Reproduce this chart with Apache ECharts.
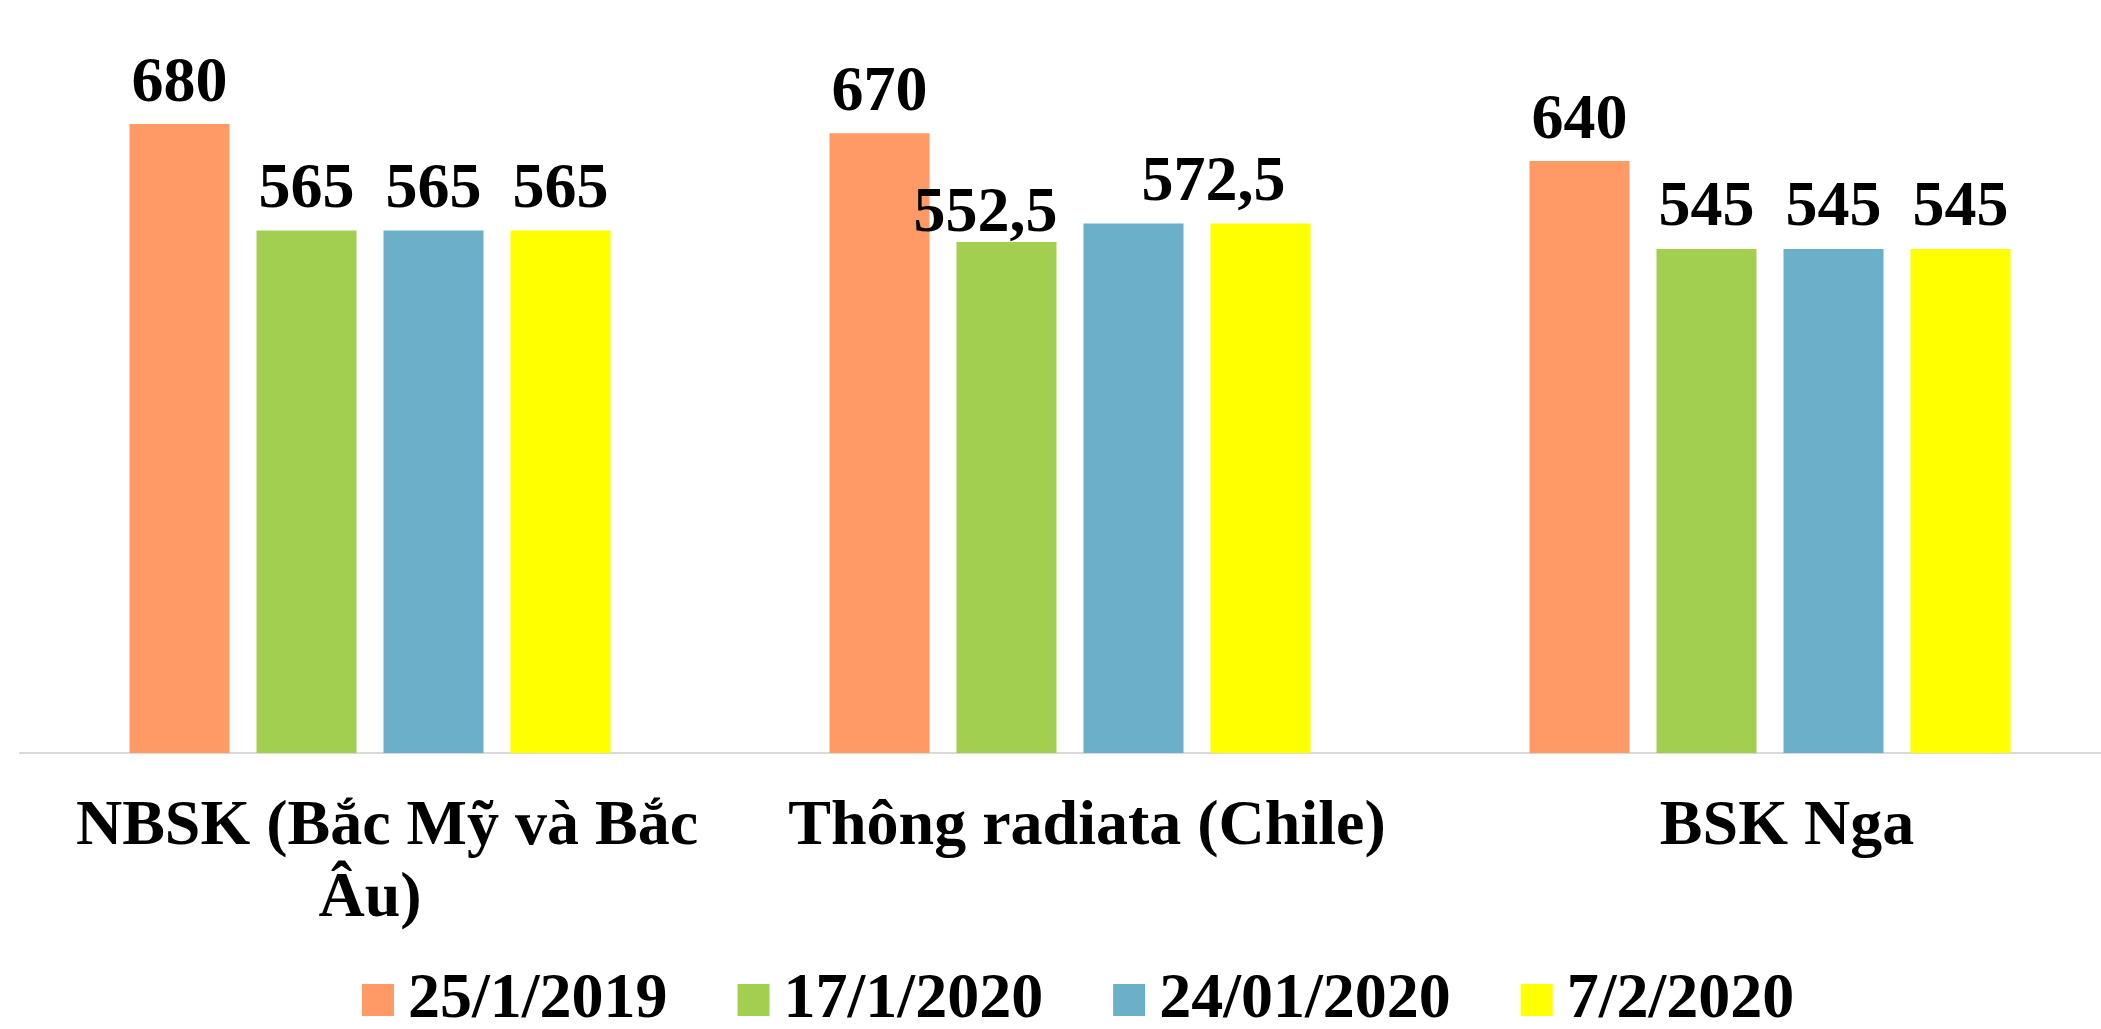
<!DOCTYPE html>
<html>
<head>
<meta charset="utf-8">
<script src="https://cdn.jsdelivr.net/npm/echarts@6/dist/echarts.min.js"></script>
<style>html,body{margin:0;padding:0;background:#fff;overflow:hidden}#c{width:2120px;height:1029px}</style>
</head>
<body>
<div id="c"></div>
<script>
const categories = ['NBSK (Bắc Mỹ và Bắc\nÂu)', 'Thông radiata (Chile)', 'BSK Nga'];
const seriesNames = ['25/1/2019', '17/1/2020', '24/01/2020', '7/2/2020'];
const s2019_01_25 = [680, 670, 640];
const s2020_01_17 = [565, 552.5, 545];
const s2020_01_24 = [565, 572.5, 545];
const s2020_02_07 = [565, 572.5, 545];
const colors = ['#FF9966', '#A2CF4F', '#6BAFC9', '#FFFF00'];

// label tweaks as in the reference (series index -> category index -> overrides)
const labelTweaks = {
  1: {1: {offset: [-21, 13]}},
  2: {1: {show: false}},
  3: {1: {offset: [-47, 0]}}
};

const FONT = "'Times New Roman', 'Liberation Serif', serif";
const allValues = [s2019_01_25, s2020_01_17, s2020_01_24, s2020_02_07];

const series = allValues.map((vals, si) => ({
  name: seriesNames[si],
  type: 'bar',
  barWidth: 100,
  barGap: '27%',
  itemStyle: {color: colors[si]},
  label: {
    show: true,
    position: 'top',
    distance: 8,
    color: '#000',
    fontFamily: FONT,
    fontWeight: 'bold',
    fontSize: 64,
    formatter: p => String(p.value).replace('.', ',')
  },
  data: vals.map((v, i) => {
    const t = labelTweaks[si] && labelTweaks[si][i];
    return t ? {value: v, label: t} : v;
  })
}));

const labelTextStyle = {
  color: '#000',
  fontFamily: FONT,
  fontWeight: 'bold',
  fontSize: 64,
  lineHeight: 72
};

const chart = echarts.init(document.getElementById('c'), null, {renderer: 'canvas'});
chart.setOption({
  animation: false,
  backgroundColor: '#fff',
  grid: {left: 20, right: 0, top: 13, bottom: 276, containLabel: false},
  xAxis: {
    type: 'category',
    data: categories,
    axisLine: {lineStyle: {color: '#D9D9D9', width: 2}},
    axisTick: {show: false},
    axisLabel: Object.assign({
      interval: 0,
      margin: 38,
      formatter: v => v.split('\n').map((l, i) => (i === 0 ? '{a|' : '{b|') + l + '}').join('\n'),
      rich: {
        a: Object.assign({padding: [0, 0, 0, 34]}, labelTextStyle),
        b: Object.assign({}, labelTextStyle)
      }
    }, labelTextStyle)
  },
  yAxis: {
    type: 'value',
    min: 0,
    max: 800,
    interval: 100,
    show: false,
    splitLine: {show: false}
  },
  legend: {
    left: 357,
    top: 963,
    itemWidth: 32,
    itemHeight: 32,
    itemGap: 70,
    icon: 'rect',
    textStyle: {
      color: '#000',
      fontFamily: FONT,
      fontWeight: 'bold',
      fontSize: 64,
      padding: [0, 0, 0, 9]
    },
    data: seriesNames
  },
  series: series
});
</script>
</body>
</html>
